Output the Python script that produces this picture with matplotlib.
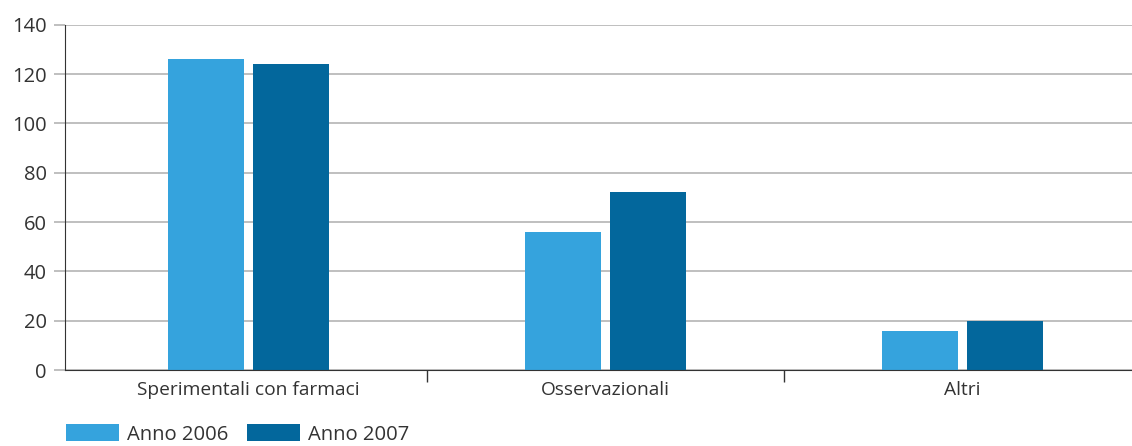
import matplotlib.pyplot as plt
import numpy as np

categorie = ["Sperimentali con farmaci", "Osservazionali", "Altri"]
anno_2006 = [126, 56, 16]
anno_2007 = [124, 72, 20]
etichette_y = [0, 20, 40, 60, 80, 100, 120, 140]

plt.rcParams['font.family'] = ['Open Sans', 'DejaVu Sans']
plt.rcParams['font.size'] = 13.8

fig = plt.figure(figsize=(11.32, 4.46), dpi=100)
ax = fig.add_axes([0.0574, 0.1704, 0.9426, 0.7742])

x = np.arange(len(categorie))
larghezza = 0.213
ax.bar(x - 0.119, anno_2006, larghezza, color="#35A3DD", label="Anno 2006", zorder=3)
ax.bar(x + 0.119, anno_2007, larghezza, color="#03679C", label="Anno 2007", zorder=3)

ax.set_xlim(-0.513, 2.476)
ax.set_ylim(0, 140)
ax.set_yticks(etichette_y)
ax.set_yticklabels([str(v) for v in etichette_y], fontsize=14.5)
ax.yaxis.grid(True, color="#b4b4b4", linewidth=1.2, zorder=0)
# lunghezze in punti: 8pt ~ 11px a 100 dpi
ax.tick_params(axis="y", length=8, width=1.2, color="#b4b4b4", labelcolor="#333333", pad=5)

ax.set_xticks(x)
ax.set_xticklabels(categorie, color="#333333")
ax.set_xticks([0.5, 1.5], minor=True)
ax.tick_params(axis="x", which="major", length=0, pad=8)
ax.tick_params(axis="x", which="minor", length=8.5, width=1, color="#333333")

for lato in ["top", "right"]:
    ax.spines[lato].set_visible(False)
ax.spines["left"].set_color("#333333")
ax.spines["bottom"].set_color("#333333")
ax.spines["bottom"].set_zorder(4)

fig.legend(loc="upper left", bbox_to_anchor=(66 / 1132, 1 - 424 / 446), ncol=2,
           frameon=False, borderpad=0, borderaxespad=0, handlelength=2.6,
           handleheight=0.95, handletextpad=0.4, columnspacing=0.95,
           labelcolor="#333333", fontsize=14.6)

plt.savefig("out.png", dpi=100)
plt.close()
